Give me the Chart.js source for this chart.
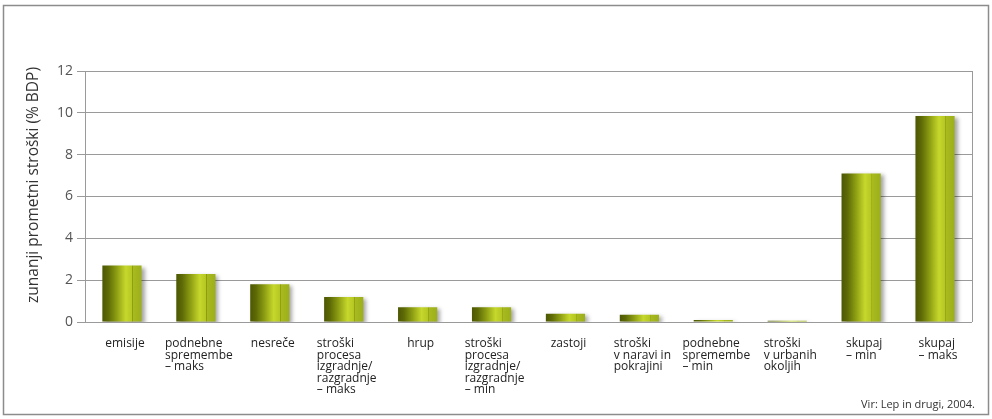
<!DOCTYPE html>
<html>
<head>
<meta charset="utf-8">
<script src="https://cdn.jsdelivr.net/npm/chart.js@4/dist/chart.umd.min.js"></script>
<style>
  html, body { margin: 0; padding: 0; background: #fff; }
  #wrap { width: 992px; height: 419px; position: relative; }
</style>
</head>
<body>
<div id="wrap"><canvas id="mycanvas"></canvas></div>
<script>
// data
var categories = [
	["emisije"],
	["podnebne", "spremembe", "– maks"],
	["nesreče"],
	["stroški", "procesa", "izgradnje/", "razgradnje", "– maks"],
	["hrup"],
	["stroški", "procesa", "izgradnje/", "razgradnje", "– min"],
	["zastoji"],
	["stroški", "v naravi in", "pokrajini"],
	["podnebne", "spremembe", "– min"],
	["stroški", "v urbanih", "okoljih"],
	["skupaj", "– min"],
	["skupaj", "– maks"]
];
var costs = [2.7, 2.3, 1.8, 1.2, 0.7, 0.7, 0.4, 0.35, 0.1, 0.06, 7.1, 9.85];
var yMin = 0, yMax = 12, yStep = 2;
var yTitle = "zunanji prometni stroški (% BDP)";
var sourceText = "Vir: Lep in drugi, 2004.";

var FONT = "'Open Sans', sans-serif";
var BAR_PCT = 0.53;

// cylinder look: horizontal gradient across each bar
function barGradient(c) {
	var chart = c.chart;
	if (!chart.chartArea || c.dataIndex === undefined) return "#a8ba1e";
	var xs = chart.scales.x;
	var cx = xs.getPixelForValue(c.dataIndex);
	var w = xs.width / categories.length * BAR_PCT;
	var g = chart.ctx.createLinearGradient(cx - w / 2, 0, cx + w / 2, 0);
	g.addColorStop(0, "#4d5703");
	g.addColorStop(0.15, "#5d6a06");
	g.addColorStop(0.35, "#8a9a12");
	g.addColorStop(0.6, "#c6d82c");
	g.addColorStop(0.76, "#b4c622");
	g.addColorStop(0.77, "#8b9b10");
	g.addColorStop(0.79, "#a8ba1e");
	g.addColorStop(1, "#9caf1a");
	return g;
}

// frame, bar shadow, category labels, axis title
var decor = {
	id: "decor",
	beforeDraw: function(chart) {
		var ctx = chart.ctx;
		ctx.save();
		ctx.fillStyle = "#fff";
		ctx.fillRect(0, 0, chart.width, chart.height);
		ctx.strokeStyle = "#8c8c8c";
		ctx.lineWidth = 1.5;
		ctx.strokeRect(3.5, 5.5, 985, 409);
		ctx.restore();
	},
	beforeDatasetsDraw: function(chart) {
		var ctx = chart.ctx;
		ctx.save();
		ctx.shadowColor = "rgba(0,0,0,0.35)";
		ctx.shadowBlur = 4;
		ctx.shadowOffsetX = 3;
		ctx.shadowOffsetY = 2;
	},
	afterDatasetsDraw: function(chart) {
		chart.ctx.restore();
	},
	afterDraw: function(chart) {
		var ctx = chart.ctx;
		var area = chart.chartArea;
		var xs = chart.scales.x;
		ctx.save();
		// right edge of plot
		ctx.strokeStyle = "#9a9a9a";
		ctx.lineWidth = 1;
		ctx.beginPath();
		ctx.moveTo(Math.round(area.right) + 0.5, area.top);
		ctx.lineTo(Math.round(area.right) + 0.5, area.bottom);
		ctx.stroke();

		// category labels: block centred, lines left aligned
		ctx.font = "12px " + FONT;
		ctx.fillStyle = "#222";
		ctx.textBaseline = "alphabetic";
		ctx.textAlign = "left";
		categories.forEach(function(lines, i) {
			var cx = xs.getPixelForTick(i) + 3;
			var w = 0;
			lines.forEach(function(t) { w = Math.max(w, ctx.measureText(t).width); });
			lines.forEach(function(t, j) {
				ctx.fillText(t, cx - w / 2, area.bottom + 25 + j * 11.5);
			});
		});

		// y axis title
		ctx.save();
		ctx.translate(34, 185);
		ctx.rotate(-Math.PI / 2);
		ctx.textAlign = "center";
		ctx.textBaseline = "middle";
		ctx.font = "15.5px " + FONT;
		ctx.fillStyle = "#333";
		ctx.fillText(yTitle, 0, 0);
		ctx.restore();

		// source
		ctx.font = "11px " + FONT;
		ctx.fillStyle = "#333";
		ctx.textAlign = "right";
		ctx.fillText(sourceText, 975, 408);
		ctx.restore();
	}
};

var ctx = document.getElementById("mycanvas");

var chartdata = {
	labels: categories,
	datasets: [
		{
			label: "stroški",
			data: costs,
			backgroundColor: barGradient,
			borderWidth: 0,
			categoryPercentage: 1,
			barPercentage: BAR_PCT
		}
	]
};

var BarGraph = new Chart(ctx, {
	type: "bar",
	data: chartdata,
	plugins: [decor],
	options: {
		responsive: true,
		maintainAspectRatio: false,
		animation: false,
		layout: { padding: { top: 71, right: 20, bottom: 0, left: 0 } },
		plugins: {
			legend: { display: false },
			tooltip: { enabled: false }
		},
		scales: {
			x: {
				ticks: { display: false },
				grid: { display: false },
				border: { display: false },
				afterFit: function(s) { s.height = 97; }
			},
			y: {
				min: yMin,
				max: yMax,
				ticks: {
					stepSize: yStep,
					color: "#555",
					padding: 4,
					font: { family: FONT, size: 14 }
				},
				grid: { color: "#9a9a9a", tickLength: 8 },
				border: { color: "#9a9a9a" },
				afterFit: function(s) { s.width = 85; }
			}
		}
	}
});
</script>
</body>
</html>
